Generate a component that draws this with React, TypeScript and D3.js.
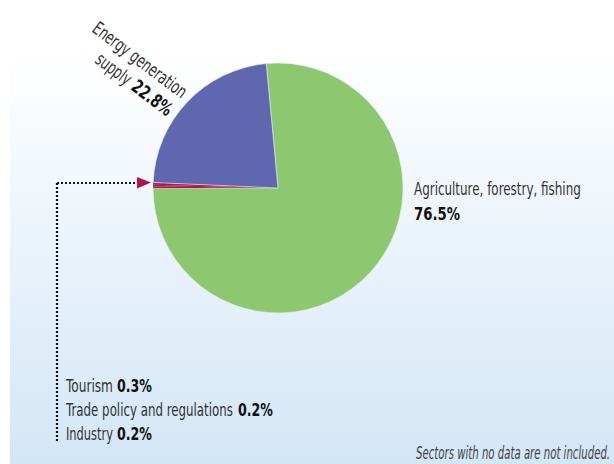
import React, { useLayoutEffect, useRef, useState } from "react";
import * as d3 from "d3";

const sectors = ["Agriculture, forestry, fishing", "Industry", "Trade policy and regulations", "Tourism", "Energy generation supply"];
const shares = [76.5, 0.2, 0.2, 0.3, 22.8];
const colors = ["#8dc871", "#b3134f", "#b3134f", "#b3134f", "#5f67ae"];

const W = 614, H = 464;
const FONT = "'DejaVu Sans', sans-serif";

type FitProps = {
  x: number; y: number; w: number; rot?: number; bold?: boolean; italic?: boolean;
  fill?: string; size?: number; children: React.ReactNode;
};

function FitText({ x, y, w, rot = 0, bold, italic, fill = "#333", size = 18.5, children }: FitProps) {
  const ref = useRef<SVGTextElement>(null);
  const [s, setS] = useState(0.8);
  useLayoutEffect(() => {
    if (ref.current) {
      const n = ref.current.getComputedTextLength();
      if (n > 0) setS(w / n);
    }
  }, [w, children]);
  return (
    <text
      ref={ref}
      transform={`translate(${x},${y}) rotate(${rot}) scale(${s},1)`}
      fontFamily={FONT}
      fontSize={size}
      fontWeight={bold ? "bold" : "normal"}
      fontStyle={italic ? "italic" : "normal"}
      fill={fill}
    >
      {children}
    </text>
  );
}

export default function App() {
  const cx = 278, cy = 188, r = 125;
  const total = d3.sum(shares);
  // green ends at 9 o'clock (270°)
  const start = ((270 - (shares[0] / total) * 360) * Math.PI) / 180;
  const pie = d3.pie<number>().sort(null).value((d) => d).startAngle(start).endAngle(start + 2 * Math.PI);
  const arcs = pie(shares);
  const arc = d3.arc<d3.PieArcDatum<number>>().innerRadius(0).outerRadius(r);

  const small = [
    { name: sectors[3], v: shares[3], y: 392, nameW: 47, vx: 117 },
    { name: sectors[2], v: shares[2], y: 416, nameW: 167, vx: 238 },
    { name: sectors[1], v: shares[1], y: 440, nameW: 47, vx: 117 },
  ];
  const rad = (37 * Math.PI) / 180;

  return (
    <svg width={W} height={H} style={{ position: "absolute", left: 0, top: 0 }}>
      <defs>
        <linearGradient id="bg" x1="0" y1="0" x2="0" y2="1">
          <stop offset="0" stopColor="#ffffff" />
          <stop offset="1" stopColor="#d3e6f6" />
        </linearGradient>
      </defs>
      <rect x={0} y={0} width={W} height={H} fill="#ffffff" />
      <rect x={10} y={52} width={W - 10} height={H - 52} fill="url(#bg)" />
      <g transform={`translate(${cx},${cy})`}>
        {arcs.map((a, i) => (
          <path key={i} d={arc(a) || ""} fill={colors[i]} stroke={i === 0 || i === 4 ? "#e8eef5" : "none"} strokeWidth={0.6} />
        ))}
      </g>
      {/* pointer */}
      <path d="M57,183 L137,183 M57,183 L57,441" stroke="#111" strokeWidth={2.2} strokeDasharray="2,2" fill="none" />
      <path d="M137,177 L151,182.5 L137,188.5 Z" fill="#b3134f" />

      <FitText x={414} y={195} w={167}>{sectors[0]}</FitText>
      <FitText x={414} y={220} w={46} bold fill="#111">{shares[0].toFixed(1)}%</FitText>

      <FitText x={91} y={31} w={113} rot={37}>Energy generation</FitText>
      <FitText x={94} y={62} w={40} rot={37}>supply</FitText>
      <FitText x={94 + 45 * Math.cos(rad)} y={62 + 45 * Math.sin(rad)} w={46} rot={37} bold fill="#111">
        {shares[4].toFixed(1)}%
      </FitText>

      {small.map((s, i) => (
        <g key={i}>
          <FitText x={66} y={s.y} w={s.nameW}>{s.name}</FitText>
          <FitText x={s.vx} y={s.y} w={35} bold fill="#111">{s.v.toFixed(1)}%</FitText>
        </g>
      ))}

      <FitText x={416} y={459} w={194} italic fill="#444" size={17.5}>Sectors with no data are not included.</FitText>
    </svg>
  );
}
